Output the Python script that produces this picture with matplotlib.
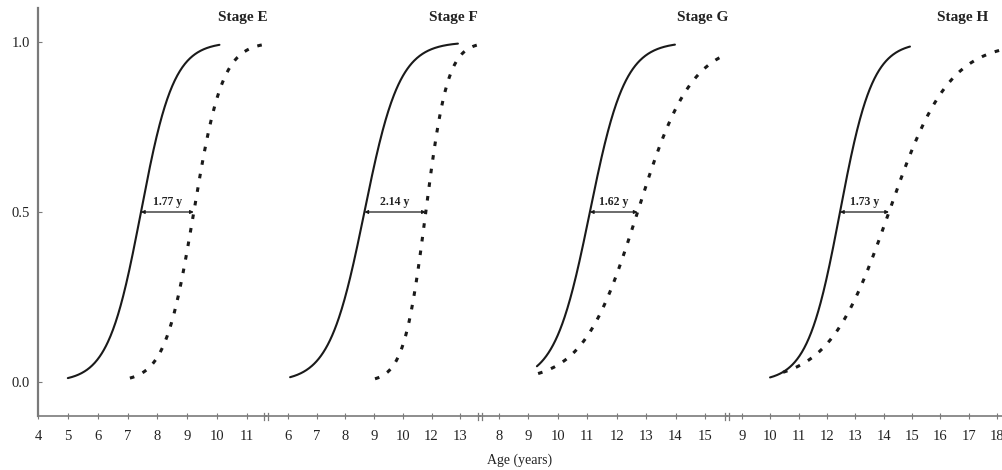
import numpy as np
import matplotlib
matplotlib.use("Agg")
import matplotlib.pyplot as plt
import matplotlib.transforms as mtransforms

plt.rcParams['font.family'] = ['Liberation Serif', 'DejaVu Serif']

# ---------------- data ----------------
stages = ["Stage E", "Stage F", "Stage G", "Stage H"]
gap_labels = ["1.77 y", "2.14 y", "1.62 y", "1.73 y"]

# solid curve: logistic, median age and spread (years), plotted age range
solid_median = [7.45, 8.66, 11.09, 12.46]
solid_spread = [0.55, 0.61, 0.595, 0.575]
solid_start = [5.00, 6.07, 9.29, 9.99]
solid_end = [10.08, 11.92, 13.98, 14.93]

# dashed curve
dashed_median = [9.22, 10.80, 12.71, 14.19]
dashed_spread = [0.48, 0.38, 0.92, 1.06]
dashed_start = [7.08, 9.03, 9.33, 10.45]
dashed_end = [11.67, 12.86, 15.68, 18.10]

# x tick positions and labels of each panel
tick_pos = [list(range(4, 12)), list(range(6, 13)), list(range(8, 16)), list(range(9, 19))]
tick_lab = [["4", "5", "6", "7", "8", "9", "10", "11"],
            ["6", "7", "8", "9", "10", "12", "13"],
            ["8", "9", "10", "11", "12", "13", "14", "15"],
            ["9", "10", "11", "12", "13", "14", "15", "16", "17", "18"]]
y_ticks = [0.0, 0.5, 1.0]
y_labels = ["0.0", "0.5", "1.0"]

# ---------------- layout ----------------
W, H = 1002, 470
fig = plt.figure(figsize=(W / 100, H / 100), dpi=100)

# panel pixel extents and x-limits (age) for each panel
panel_px = [(38, 266), (266, 480), (480, 727), (727, 1002)]
panel_xlim = [(4.0, 11.64), (5.23, 12.69), (7.355, 15.75), (8.47, 18.18)]
top_px, bot_px = 8, 416
title_right_px = [268, 478, 728, 988]

spine_col = "#7a7a7a"
txt_col = "#222222"
line_col = "#1a1a1a"

def logistic(x, m, s):
    return 1.0 / (1.0 + np.exp(-(x - m) / s))

for i in range(4):
    x0, x1 = panel_px[i]
    ax = fig.add_axes([x0 / W, 1 - bot_px / H, (x1 - x0) / W, (bot_px - top_px) / H])
    ax.set_xlim(*panel_xlim[i])
    ax.set_ylim(-0.1, 1.1)
    ax.patch.set_alpha(0)
    for sp in ["top", "right"]:
        ax.spines[sp].set_visible(False)
    ax.spines["bottom"].set_color(spine_col)
    ax.spines["bottom"].set_linewidth(1.2)
    if i == 0:
        ax.spines["left"].set_color(spine_col)
        ax.spines["left"].set_linewidth(1.6)
        ax.set_yticks(y_ticks)
        ax.set_yticklabels(y_labels)
        ax.tick_params(axis="y", direction="in", length=3, width=0.8,
                       colors=spine_col, labelcolor=txt_col, labelsize=10.5, pad=6)
    else:
        ax.spines["left"].set_visible(False)
        ax.set_yticks([])
    ax.set_xticks(tick_pos[i])
    ax.set_xticklabels(tick_lab[i])
    ax.tick_params(axis="x", direction="inout", length=4, width=0.8,
                   colors=spine_col, labelcolor=txt_col, labelsize=10.5, pad=8)

    # curves
    xs = np.linspace(solid_start[i], solid_end[i], 300)
    ax.plot(xs, logistic(xs, solid_median[i], solid_spread[i]),
            color=line_col, lw=1.5, solid_capstyle="round", clip_on=False)
    xd = np.linspace(dashed_start[i], dashed_end[i], 300)
    ax.plot(xd, logistic(xd, dashed_median[i], dashed_spread[i]),
            color=line_col, lw=2.2, linestyle=(0, (1.5, 3.0)), clip_on=False)

    # gap arrow at 0.5
    ax.annotate("", xy=(dashed_median[i], 0.5), xytext=(solid_median[i], 0.5),
                arrowprops=dict(arrowstyle="<|-|>", color=line_col, lw=0.9,
                                mutation_scale=5, shrinkA=0, shrinkB=0))
    ax.text((solid_median[i] + dashed_median[i]) / 2, 0.512, gap_labels[i],
            ha="center", va="bottom", fontsize=8.5, fontweight="bold", color=txt_col)

    # stage title
    ax.text((title_right_px[i] - x0) / (x1 - x0), 1 - 10 / (bot_px - top_px), stages[i],
            transform=ax.transAxes, ha="right", va="center",
            fontsize=11, fontweight="bold", color=txt_col)

    # axis-break marks
    if i < 3:
        for dx in (-2.0, 2.0):
            tr = ax.transAxes + mtransforms.ScaledTranslation(dx / 100, 0, fig.dpi_scale_trans)
            ax.plot([1.0, 1.0], [-3.5 / (bot_px - top_px), 3.5 / (bot_px - top_px)],
                    transform=tr, color=spine_col, lw=0.9, clip_on=False)

fig.text(520 / W, 1 - 460 / H, "Age (years)", ha="center", va="center",
         fontsize=10, color=txt_col)

fig.savefig("out.png", dpi=100, facecolor="white")
